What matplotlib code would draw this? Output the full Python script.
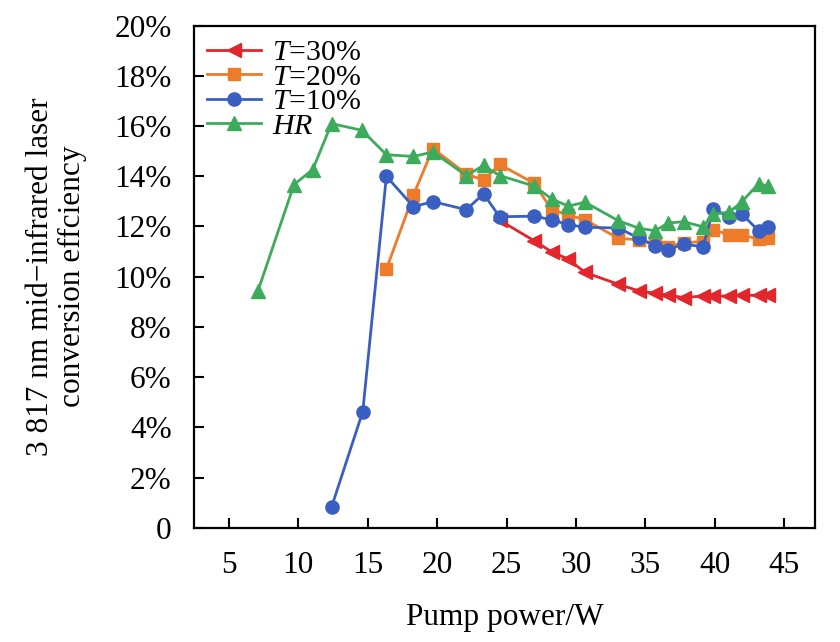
import numpy as np
import matplotlib.pyplot as plt
from matplotlib.ticker import FuncFormatter

plt.rcParams['font.family'] = ['Liberation Serif', 'DejaVu Serif']
plt.rcParams['mathtext.fontset'] = 'custom'
plt.rcParams['mathtext.rm'] = 'Liberation Serif'
plt.rcParams['mathtext.it'] = 'Liberation Serif:italic'

# Pump power (W) and conversion efficiency (%)
hr_x = [7.1, 9.7, 11.05, 12.4, 14.6, 16.35, 18.3, 19.7, 22.1, 23.35, 24.5, 27.0, 28.25,
        29.45, 30.65, 33.05, 34.55, 35.7, 36.65, 37.75, 39.15, 39.9, 41.05, 41.95, 43.15, 43.85]
hr_y = [9.43, 13.67, 14.27, 16.1, 15.83, 14.86, 14.79, 14.97, 14.03, 14.43, 14.03, 13.61, 13.1,
        12.81, 12.97, 12.23, 11.93, 11.83, 12.14, 12.19, 11.99, 12.5, 12.57, 12.99, 13.7, 13.61]

t10_x = [12.4, 14.65, 16.35, 18.3, 19.7, 22.1, 23.35, 24.5, 27.0, 28.25, 29.45, 30.65, 33.05,
         34.55, 35.7, 36.65, 37.75, 39.15, 39.9, 41.05, 41.95, 43.15, 43.8]
t10_y = [0.82, 4.63, 14.0, 12.79, 12.99, 12.67, 13.3, 12.39, 12.41, 12.27, 12.07, 11.97, 11.94,
         11.53, 11.23, 11.07, 11.3, 11.19, 12.7, 12.37, 12.5, 11.83, 11.99]

t20_x = [16.35, 18.3, 19.7, 22.1, 23.35, 24.5, 27.0, 28.25, 29.45, 30.65, 33.05, 34.55, 35.7,
         36.65, 37.75, 39.15, 39.9, 41.05, 41.95, 43.15, 43.8]
t20_y = [10.3, 13.26, 15.1, 14.1, 13.84, 14.47, 13.72, 12.67, 12.46, 12.27, 11.53, 11.47, 11.3,
         11.2, 11.35, 11.4, 11.87, 11.66, 11.66, 11.5, 11.53]

t30_x = [24.5, 27.0, 28.25, 29.45, 30.65, 33.05, 34.55, 35.7, 36.65, 37.75, 39.15, 39.9, 41.05,
         41.95, 43.15, 43.8]
t30_y = [12.25, 11.43, 10.99, 10.7, 10.17, 9.7, 9.43, 9.34, 9.26, 9.17, 9.23, 9.23, 9.23,
         9.26, 9.26, 9.26]

fig = plt.figure(figsize=(8.4, 6.42), dpi=100)
ax = fig.add_axes([0.231, 0.178, 0.739, 0.782])

ax.plot(t30_x, t30_y, color='#e2262b', marker='<', markersize=10, linewidth=2, label=r'$T$=30%')
ax.plot(t20_x, t20_y, color='#ee7b2a', marker='s', markersize=8, linewidth=2, label=r'$T$=20%')
ax.plot(t10_x, t10_y, color='#3a5fc2', marker='o', markersize=9.5, linewidth=2, label=r'$T$=10%')
ax.plot(hr_x, hr_y, color='#3dab5c', marker='^', markersize=10, linewidth=2, label=r'$HR$')

ax.set_xlim(2.5, 47.2)
ax.set_ylim(0, 20)
ax.set_xticks(np.arange(5, 46, 5))
ax.set_yticks(np.arange(0, 21, 2))
ax.yaxis.set_major_formatter(FuncFormatter(lambda v, p: '0' if v == 0 else f'{v:.0f}%'))
ax.tick_params(direction='in', length=7, width=1.5, labelsize=22.5)
ax.tick_params(axis='y', pad=16)
ax.tick_params(axis='x', pad=17)
for s in ax.spines.values():
    s.set_linewidth(1.6)

ax.set_xlabel('Pump power/W', fontsize=22.5, labelpad=16)
ax.set_ylabel('3 817 nm mid\u2212infrared laser\nconversion effciency', fontsize=22.5,
              labelpad=20, linespacing=1.1)

ax.legend(loc='upper left', frameon=False, fontsize=21.5, handlelength=1.8,
          borderaxespad=0.3, borderpad=0.15, labelspacing=-0.08, handletextpad=0.35)

fig.savefig('out.png', dpi=100)
